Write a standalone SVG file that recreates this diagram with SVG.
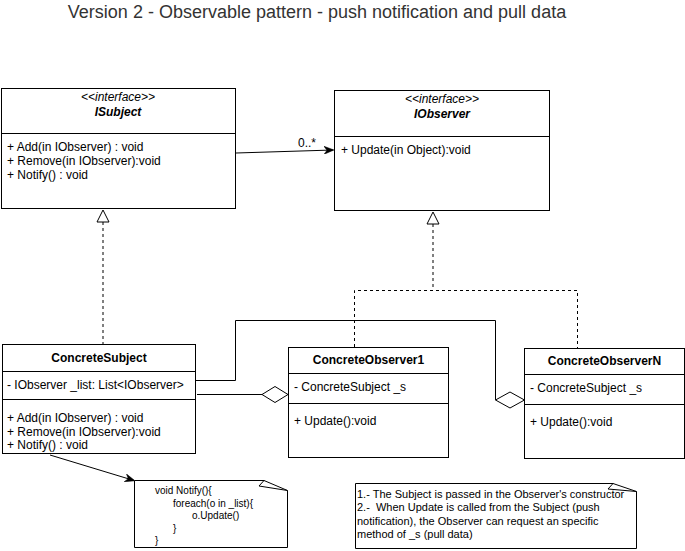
<svg xmlns="http://www.w3.org/2000/svg" width="685" height="551" viewBox="0 0 685 551">
<defs>
<style>
.box{fill:#fff;stroke:#000;stroke-width:1}
.ln{fill:none;stroke:#000;stroke-width:1}
.dash{fill:none;stroke:#000;stroke-width:1;stroke-dasharray:3 3}
.t{font-family:"Liberation Sans",Arial,sans-serif;font-size:12px;fill:#000}
.c{text-anchor:middle}
.b{font-weight:bold}
.i{font-style:italic}
.n1{font-family:"Liberation Sans",Arial,sans-serif;font-size:10px;fill:#000}
.n2{font-family:"Liberation Sans",Arial,sans-serif;font-size:11px;fill:#000;white-space:pre}
.title{font-family:"Liberation Sans",Arial,sans-serif;font-size:18px;fill:#333;text-anchor:middle}
</style>
<marker id="arr" viewBox="0 0 10 8" refX="9" refY="4" markerWidth="10" markerHeight="8" markerUnits="userSpaceOnUse" orient="auto">
<path d="M0,0 L10,4 L0,8 L3,4 Z" fill="#000" stroke="#000" stroke-width="0.5"/>
</marker>
</defs>
<rect width="685" height="551" fill="#fff"/>
<text class="title" x="317" y="18">Version 2 - Observable pattern - push notification and pull data</text>

<g id="connectors">
<line class="ln" x1="236" y1="153" x2="333" y2="150" marker-end="url(#arr)"/>
<text class="t" x="298" y="147">0..*</text>
<line class="dash" x1="103" y1="222" x2="103" y2="344"/>
<polygon class="box" points="103,210 97,222 109,222"/>
<polyline class="dash" points="433,224 433,290"/>
<polyline class="dash" points="354.5,347 354.5,290.5 577.5,290.5 577.5,348"/>
<polygon class="box" points="433,212 427,224 439,224"/>
<polyline class="ln" points="196,380.5 235.5,380.5 235.5,320.5 495.5,320.5 495.5,400"/>
<polygon class="box" points="495.5,400 510,392 524.5,400 510,408"/>
<line class="ln" x1="197" y1="394.5" x2="262" y2="394.5"/>
<polygon class="box" points="262,394.5 275,386.5 288,394.5 275,402.5"/>
<line class="ln" x1="50" y1="455" x2="134" y2="480.5" marker-end="url(#arr)"/>
</g>

<g id="ISubject">
<rect class="box" x="1.5" y="88.5" width="234" height="120"/>
<line class="ln" x1="1.5" y1="133.5" x2="235.5" y2="133.5"/>
<text class="t c i" x="118" y="101">&lt;&lt;interface&gt;&gt;</text>
<text class="t c i b" x="118" y="116">ISubject</text>
<text class="t" x="7" y="151">+ Add(in IObserver) : void</text>
<text class="t" x="7" y="165">+ Remove(in IObserver):void</text>
<text class="t" x="7" y="179">+ Notify() : void</text>
</g>

<g id="IObserver">
<rect class="box" x="334.5" y="90.5" width="215" height="120"/>
<line class="ln" x1="334.5" y1="136.5" x2="549.5" y2="136.5"/>
<text class="t c i" x="442" y="103">&lt;&lt;interface&gt;&gt;</text>
<text class="t c i b" x="442" y="118">IObserver</text>
<text class="t" x="341" y="154">+ Update(in Object):void</text>
</g>

<g id="ConcreteSubject">
<rect class="box" x="2.5" y="344.5" width="193" height="109"/>
<line class="ln" x1="2.5" y1="371.5" x2="195.5" y2="371.5"/>
<line class="ln" x1="2.5" y1="399.5" x2="195.5" y2="399.5"/>
<text class="t c b" x="99" y="362">ConcreteSubject</text>
<text class="t" x="7" y="389">- IObserver _list: List&lt;IObserver&gt;</text>
<text class="t" x="7" y="422">+ Add(in IObserver) : void</text>
<text class="t" x="7" y="435.5">+ Remove(in IObserver):void</text>
<text class="t" x="7" y="449">+ Notify() : void</text>
</g>

<g id="ConcreteObserver1">
<rect class="box" x="288.5" y="347.5" width="160" height="110"/>
<line class="ln" x1="288.5" y1="373.5" x2="448.5" y2="373.5"/>
<line class="ln" x1="288.5" y1="403.5" x2="448.5" y2="403.5"/>
<text class="t c b" x="368.5" y="364">ConcreteObserver1</text>
<text class="t" x="294" y="391">- ConcreteSubject _s</text>
<text class="t" x="294" y="425">+ Update():void</text>
</g>

<g id="ConcreteObserverN">
<rect class="box" x="524.5" y="348.5" width="160" height="110"/>
<line class="ln" x1="524.5" y1="374.5" x2="684.5" y2="374.5"/>
<line class="ln" x1="524.5" y1="404.5" x2="684.5" y2="404.5"/>
<text class="t c b" x="604.5" y="365">ConcreteObserverN</text>
<text class="t" x="530" y="392">- ConcreteSubject _s</text>
<text class="t" x="530" y="426">+ Update():void</text>
</g>

<g id="note1">
<path class="box" d="M134.5,480.5 H264 L287.5,490.5 V547.5 H134.5 Z"/>
<path class="ln" d="M264,480.5 L259,486 L287.5,490.5"/>
<text class="n1" x="155" y="494">void Notify(){</text>
<text class="n1" x="173" y="506.5">foreach(o in _list){</text>
<text class="n1" x="192" y="519">o.Update()</text>
<text class="n1" x="173" y="531.5">}</text>
<text class="n1" x="155" y="544">}</text>
</g>

<g id="note2">
<path class="box" d="M355.5,483.5 H613 L636.5,491.5 V548.5 H355.5 Z"/>
<path class="ln" d="M613,483.5 L608,489 L636.5,491.5"/>
<text class="n2" x="357" y="498">1.- The Subject is passed in the Observer's constructor</text>
<text class="n2" x="357" y="511" xml:space="preserve">2.-  When Update is called from the Subject (push</text>
<text class="n2" x="357" y="524.5">notification), the Observer can request an specific</text>
<text class="n2" x="357" y="537.5">method of _s (pull data)</text>
</g>
</svg>
